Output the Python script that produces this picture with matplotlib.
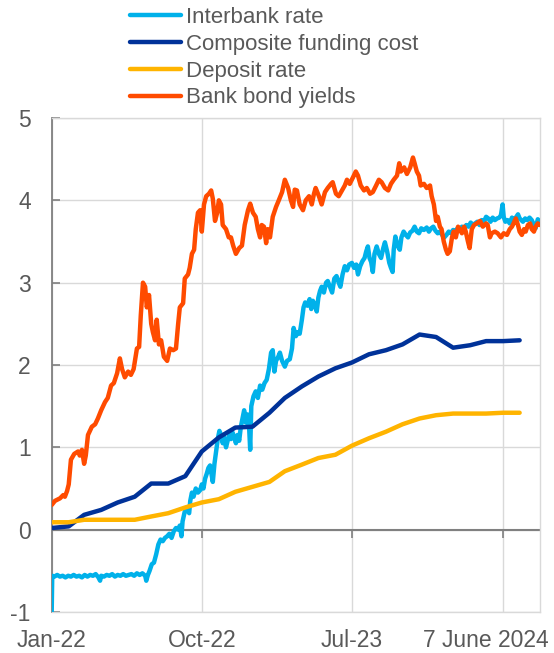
import numpy as np
import pandas as pd
import matplotlib
matplotlib.use("Agg")
import matplotlib.pyplot as plt
import matplotlib.transforms as mtransforms

plt.rcParams['font.family'] = ['Liberation Sans', 'DejaVu Sans']
plt.rcParams['axes.unicode_minus'] = False

start = pd.Timestamp('2022-01-01')

# daily series, x given as days since 1 Jan 2022
ib_day = [0, 1, 5, 10, 15, 20, 25, 30, 35, 40,
          45, 50, 55, 60, 65, 70, 75, 80, 85, 88,
          90, 95, 100, 105, 110, 115, 120, 125, 130, 135,
          140, 145, 150, 155, 160, 165, 170, 172, 175, 178,
          182, 186, 190, 194, 198, 202, 206, 210, 214, 218,
          222, 226, 230, 233, 236, 238, 242, 246, 250, 252,
          255, 258, 262, 266, 270, 273, 276, 279, 282, 285,
          288, 290, 293, 296, 299, 302, 305, 308, 311, 314,
          317, 320, 323, 326, 329, 332, 335, 338, 341, 344,
          347, 350, 353, 356, 359, 361, 363, 367, 371, 375,
          379, 383, 387, 391, 395, 399, 402, 405, 408, 412,
          415, 419, 424, 428, 433, 437, 440, 444, 448, 451,
          455, 458, 461, 465, 469, 472, 475, 479, 482, 485,
          488, 491, 495, 499, 502, 506, 510, 514, 518, 522,
          525, 529, 533, 537, 541, 546, 550, 554, 557, 561,
          565, 569, 572, 575, 578, 581, 584, 587, 591, 595,
          599, 603, 606, 610, 614, 617, 620, 622, 625, 629,
          633, 636, 640, 644, 648, 652, 656, 660, 664, 668,
          672, 677, 682, 686, 690, 694, 698, 702, 706, 710,
          714, 718, 722, 726, 730, 734, 738, 742, 746, 750,
          754, 758, 762, 766, 770, 774, 778, 782, 786, 790,
          794, 798, 802, 806, 810, 814, 817, 820, 822, 825,
          829, 833, 837, 841, 845, 848, 851, 854, 857, 861,
          865, 869, 873, 877, 880, 884, 888]
ib_rate = [-1.00, -0.56, -0.57, -0.55, -0.57, -0.56, -0.58, -0.56, -0.57, -0.55,
           -0.57, -0.56, -0.58, -0.55, -0.57, -0.55, -0.56, -0.54, -0.58, -0.62,
           -0.56, -0.57, -0.55, -0.56, -0.54, -0.57, -0.55, -0.56, -0.54, -0.56,
           -0.55, -0.54, -0.56, -0.53, -0.55, -0.53, -0.56, -0.62, -0.55, -0.50,
           -0.42, -0.40, -0.30, -0.18, -0.12, -0.14, -0.10, -0.08, -0.05, -0.10,
           -0.02, 0.02, 0.00, 0.05, -0.08, 0.10, 0.22, 0.25, 0.20, 0.35,
           0.45, 0.40, 0.50, 0.45, 0.48, 0.55, 0.50, 0.62, 0.68, 0.75,
           0.78, 0.70, 0.58, 0.80, 0.95, 1.10, 1.20, 1.15, 1.05, 1.12,
           1.00, 1.08, 1.15, 1.10, 1.18, 1.12, 1.05, 1.15, 1.08, 1.25,
           1.35, 1.45, 1.30, 1.40, 1.25, 0.97, 1.50, 1.62, 1.68, 1.60,
           1.75, 1.70, 1.78, 1.82, 1.95, 2.15, 2.18, 1.92, 2.05, 2.10,
           2.15, 2.05, 1.98, 2.05, 2.07, 2.20, 2.45, 2.35, 2.40, 2.38,
           2.55, 2.70, 2.76, 2.72, 2.80, 2.68, 2.78, 2.72, 2.65, 2.82,
           2.90, 2.95, 2.88, 3.00, 3.02, 2.95, 2.88, 3.05, 3.08, 3.00,
           2.95, 3.10, 3.20, 3.15, 3.22, 3.24, 3.18, 3.22, 3.10, 3.20,
           3.26, 3.30, 3.38, 3.44, 3.30, 3.25, 3.13, 3.35, 3.44, 3.35,
           3.30, 3.42, 3.49, 3.38, 3.24, 3.18, 3.13, 3.40, 3.56, 3.45,
           3.40, 3.55, 3.62, 3.58, 3.55, 3.61, 3.63, 3.68, 3.62, 3.60,
           3.66, 3.64, 3.67, 3.62, 3.66, 3.68, 3.63, 3.60, 3.62, 3.58,
           3.55, 3.58, 3.62, 3.60, 3.64, 3.62, 3.66, 3.63, 3.68, 3.66,
           3.70, 3.68, 3.73, 3.70, 3.72, 3.74, 3.70, 3.76, 3.74, 3.80,
           3.78, 3.74, 3.79, 3.76, 3.78, 3.79, 3.82, 3.95, 3.80, 3.74,
           3.76, 3.72, 3.79, 3.76, 3.80, 3.83, 3.78, 3.76, 3.74, 3.78,
           3.76, 3.79, 3.76, 3.70, 3.66, 3.77, 3.74]

bond_day = [0, 6, 15, 21, 24, 28, 31, 35, 41, 48,
            51, 55, 59, 62, 66, 73, 79, 84, 90, 97,
            102, 108, 113, 119, 124, 128, 133, 139, 144, 149,
            155, 159, 162, 166, 170, 173, 177, 181, 184, 188,
            191, 195, 199, 204, 210, 215, 221, 226, 230, 233,
            239, 242, 248, 251, 255, 259, 262, 266, 270, 273,
            277, 281, 286, 290, 293, 297, 301, 304, 308, 311,
            317, 322, 326, 330, 335, 341, 346, 351, 357, 361,
            366, 371, 375, 379, 382, 386, 390, 393, 397, 402,
            408, 413, 419, 424, 430, 435, 439, 442, 446, 451,
            457, 462, 468, 473, 477, 480, 486, 491, 497, 502,
            508, 511, 517, 522, 528, 533, 537, 542, 548, 553,
            557, 562, 568, 573, 579, 584, 590, 595, 600, 606,
            612, 617, 622, 628, 632, 635, 641, 646, 652, 657,
            660, 664, 668, 671, 677, 682, 688, 691, 695, 699,
            702, 706, 709, 713, 717, 720, 724, 728, 731, 735,
            739, 742, 746, 750, 753, 757, 760, 764, 768, 773,
            779, 784, 790, 793, 797, 800, 806, 811, 817, 822,
            828, 833, 837, 840, 844, 848, 851, 855, 859, 862,
            866, 870, 873, 877, 880, 884, 888]
bond_yield = [0.30, 0.35, 0.38, 0.42, 0.40, 0.47, 0.55, 0.85, 0.92, 0.95,
              0.90, 0.97, 0.80, 0.90, 1.15, 1.25, 1.28, 1.35, 1.45, 1.55,
              1.60, 1.75, 1.78, 1.90, 2.08, 1.95, 1.85, 1.92, 1.88, 1.95,
              2.20, 2.22, 2.60, 3.00, 2.95, 2.70, 2.85, 2.50, 2.40, 2.30,
              2.55, 2.25, 2.30, 2.10, 2.05, 2.20, 2.18, 2.20, 2.50, 2.70,
              2.75, 3.05, 3.10, 3.18, 3.35, 3.40, 3.65, 3.85, 3.88, 3.62,
              3.95, 4.05, 4.08, 4.12, 4.02, 3.75, 3.85, 4.00, 3.95, 3.70,
              3.65, 3.55, 3.55, 3.45, 3.35, 3.42, 3.45, 3.70, 3.88, 3.96,
              3.85, 3.80, 3.65, 3.55, 3.70, 3.68, 3.48, 3.65, 3.55, 3.80,
              3.92, 4.00, 4.10, 4.25, 4.15, 4.00, 3.92, 4.13, 4.12, 3.95,
              3.88, 4.00, 4.05, 3.95, 4.08, 4.15, 4.05, 3.95, 4.10, 4.15,
              4.20, 4.22, 4.08, 4.05, 4.12, 4.18, 4.25, 4.20, 4.28, 4.35,
              4.30, 4.18, 4.12, 4.15, 4.08, 4.10, 4.18, 4.25, 4.22, 4.15,
              4.12, 4.20, 4.25, 4.30, 4.45, 4.35, 4.40, 4.32, 4.40, 4.52,
              4.45, 4.35, 4.30, 4.18, 4.20, 4.15, 4.18, 4.05, 3.95, 3.75,
              3.80, 3.68, 3.65, 3.50, 3.40, 3.35, 3.38, 3.55, 3.62, 3.55,
              3.68, 3.65, 3.60, 3.68, 3.62, 3.50, 3.42, 3.65, 3.70, 3.72,
              3.75, 3.68, 3.72, 3.70, 3.55, 3.60, 3.62, 3.60, 3.55, 3.60,
              3.58, 3.65, 3.68, 3.72, 3.78, 3.70, 3.62, 3.58, 3.65, 3.62,
              3.70, 3.72, 3.65, 3.62, 3.68, 3.72, 3.70]

# monthly series, Jan-22 .. May-24
months = pd.date_range('2022-01-01', periods=29, freq='MS')
composite = [0.02, 0.04, 0.18, 0.24, 0.33, 0.40, 0.56, 0.56, 0.65, 0.95,
             1.12, 1.24, 1.25, 1.42, 1.60, 1.74, 1.86, 1.96, 2.03, 2.13,
             2.18, 2.25, 2.37, 2.34, 2.21, 2.24, 2.29, 2.29, 2.30]
deposit = [0.09, 0.09, 0.12, 0.12, 0.12, 0.12, 0.16, 0.20, 0.27, 0.33,
           0.37, 0.46, 0.52, 0.58, 0.71, 0.79, 0.87, 0.91, 1.02, 1.11,
           1.19, 1.28, 1.35, 1.39, 1.41, 1.41, 1.41, 1.42, 1.42]

tick_dates = pd.to_datetime(['2022-01-01', '2022-10-01', '2023-07-01', '2024-04-01'])
tick_labels = ['Jan-22', 'Oct-22', 'Jul-23', '7 June 2024']

ib_dates = start + pd.to_timedelta(ib_day, unit='D')
bond_dates = start + pd.to_timedelta(bond_day, unit='D')

grey = '#595959'
fig = plt.figure(figsize=(5.54, 6.53), dpi=100)
ax = fig.add_axes([0.0933, 0.0628, 0.8814, 0.7565])

style = dict(lw=3.2, solid_capstyle='round', solid_joinstyle='round')
l1, = ax.plot(ib_dates, ib_rate, color='#00B1EA', zorder=3, label='Interbank rate', **style)
l2, = ax.plot(months, composite, color='#003299', zorder=4, label='Composite funding cost', **style)
l3, = ax.plot(months, deposit, color='#FFB400', zorder=4, label='Deposit rate', **style)
l4, = ax.plot(bond_dates, bond_yield, color='#FF4B00', zorder=5, label='Bank bond yields', **style)

ax.set_xlim(start, pd.Timestamp('2024-06-07'))
ax.set_ylim(-1, 5)
ax.set_yticks(range(-1, 6))
ax.set_xticks(tick_dates)
ax.set_xticklabels(tick_labels)

ax.grid(True, color='#d9d9d9', lw=1)
ax.set_axisbelow(True)
for s in ['top', 'right', 'bottom']:
    ax.spines[s].set_color('#d9d9d9')
    ax.spines[s].set_linewidth(1)
ax.spines['left'].set_color('#808080')
ax.spines['left'].set_linewidth(1.3)

ax.tick_params(axis='x', length=0, pad=12, labelsize=16.5, labelcolor=grey)
ax.tick_params(axis='y', direction='in', length=6, width=1.2, color='#808080',
               pad=15, labelsize=16.5, labelcolor=grey)

# zero line with small ticks
ax.axhline(0, color='#808080', lw=1.5, zorder=2)
ax.plot(tick_dates[1:], [0] * 3, ls='none', marker=3, ms=6, mew=1.2, color='#808080', zorder=2)

lab = ax.get_xticklabels()[-1]
lab.set_transform(lab.get_transform() + mtransforms.ScaledTranslation(-0.17, 0, fig.dpi_scale_trans))

fig.legend(handles=[l1, l2, l3, l4], loc='upper left', bbox_to_anchor=(130 / 554, 1 - 7 / 653),
           frameon=False, fontsize=16, handlelength=2.3, handletextpad=0.2,
           labelspacing=0.26, borderpad=0, borderaxespad=0, labelcolor=grey)

fig.savefig('out.png', dpi=100)
